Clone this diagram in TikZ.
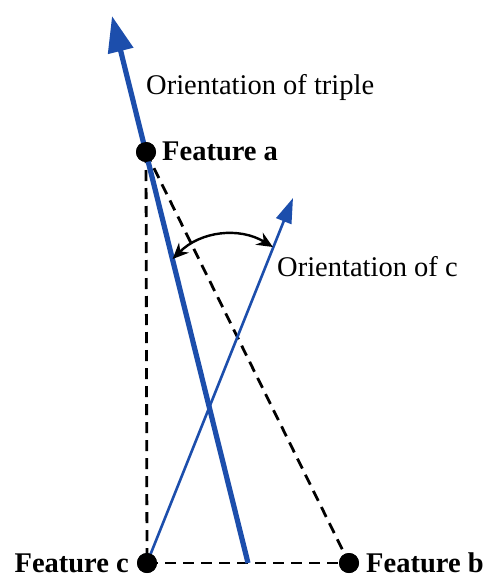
\documentclass[tikz,border=0pt]{standalone}
\usepackage{fontspec}
\setmainfont{Liberation Serif}
\usetikzlibrary{arrows.meta}
\definecolor{lineblue}{RGB}{28,78,172}
\begin{document}
\begin{tikzpicture}[x=1pt,y=-1pt,
  dot/.style={circle,fill=black,inner sep=0pt,minimum size=20pt},
  lbl/.style={inner sep=0pt,font=\fontsize{28.5}{30}\selectfont},
  blbl/.style={lbl,font=\fontsize{28.5}{30}\selectfont\bfseries},
  dsh/.style={black,line width=2.8pt,dash pattern=on 11pt off 7pt},
  thickblue/.style={lineblue,line width=5.2pt,-{Triangle[length=36pt,width=25pt]}},
  thinblue/.style={lineblue,line width=2.6pt,-{Triangle[length=25pt,width=16pt]}},
  angarrow/.style={black,line width=2.4pt,{Stealth[length=16pt,width=14pt]}-{Stealth[length=16pt,width=14pt]}}]
\useasboundingbox (0,0) rectangle (486,578);
% points
\node[dot] (a) at (146,152) {};
\node[dot] (c) at (147,563) {};
\node[dot] (b) at (349,563) {};
\coordinate (m) at (248,563);
\coordinate (tipT) at (112,16);
\coordinate (tipC) at (293,198);
\coordinate (p1) at (172.6,259);
\coordinate (p2) at (272.9,247);
% dashed triangle
\draw[dsh] (a.center) -- (c.center);
\draw[dsh] (a.center) -- (b.center);
\draw[dsh] (c.center) -- (b.center);
% blue lines
\draw[thinblue] (c.center) -- (tipC);
\draw[thickblue] (m) -- (tipT);
% redraw dots on top
\node[dot] at (a) {};
\node[dot] at (c) {};
\node[dot] at (b) {};
% angle arc
\draw[angarrow] (p1) to[bend left=38] (p2);
% labels
\node[lbl,anchor=mid west] (t1) at (146,92) {Orientation of triple};
\node[blbl,anchor=mid west] (la) at (162,158) {Feature a};
\node[lbl,anchor=mid west] (t2) at (277,274) {Orientation of c};
\node[blbl,anchor=mid east] (lc) at (129,570) {Feature c};
\node[blbl,anchor=mid west] (lb) at (366,570) {Feature b};
\end{tikzpicture}
\end{document}
